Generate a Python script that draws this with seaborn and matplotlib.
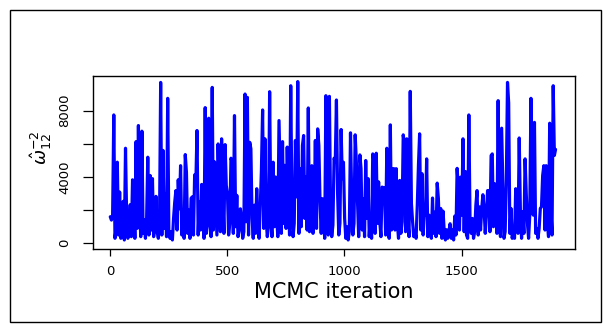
import numpy as np
import pandas as pd
import matplotlib
matplotlib.use("Agg")
import matplotlib.pyplot as plt
from matplotlib.patches import Rectangle
import seaborn as sns

# ---- data (one value every 5 MCMC iterations) ----
step = 5
trace_values = [
    1600, 1400, 1700, 7740, 300, 900, 4890, 500, 3090, 300, 800, 2530, 200, 5730, 1500, 300, 900, 2330, 400, 3830,
    2900, 300, 6130, 900, 7100, 2300, 400, 6760, 600, 1420, 300, 1400, 5190, 500, 4090, 800, 3900, 400, 1000, 2830,
    700, 300, 1100, 9700, 500, 5600, 900, 3000, 400, 8740, 500, 300, 700, 200, 1500, 2480, 3180, 800, 3830, 2080,
    4680, 500, 2000, 300, 5350, 4280, 600, 2000, 300, 2720, 2800, 500, 4130, 3500, 6800, 500, 2480, 800, 3550, 1500,
    300, 8180, 600, 1200, 7540, 1500, 400, 9400, 800, 4910, 2700, 500, 5990, 2900, 700, 6300, 2900, 600, 5950, 3490,
    3000, 500, 1200, 5130, 4900, 600, 7700, 1000, 2890, 400, 800, 2080, 1500, 300, 700, 9000, 1300, 8800, 500, 6090,
    5700, 1500, 300, 2300, 600, 3290, 1100, 300, 2200, 4460, 8040, 900, 6300, 1500, 400, 1000, 9140, 1700, 400, 4890,
    1000, 4000, 1500, 400, 7400, 4100, 600, 6130, 1200, 4700, 900, 5800, 2700, 500, 9500, 2700, 400, 1200, 6200, 2800,
    9750, 600, 4500, 1000, 5900, 6500, 1500, 4000, 800, 8160, 700, 4500, 4680, 600, 2000, 6200, 900, 6900, 5900, 2500,
    600, 2690, 1500, 300, 8900, 2000, 500, 8860, 2000, 400, 1100, 5130, 4900, 8640, 3000, 500, 1200, 6860, 3900, 4890,
    1500, 300, 1000, 200, 700, 6660, 3000, 500, 1200, 6540, 4900, 2500, 400, 5330, 4500, 800, 2700, 400, 4990, 1500,
    3900, 400, 1700, 300, 5390, 5000, 600, 5430, 1200, 3700, 1300, 400, 3390, 3350, 3350, 500, 5730, 1500, 300, 7140,
    800, 4500, 4500, 800, 4500, 1200, 300, 3790, 600, 1300, 6540, 6000, 700, 6300, 1300, 400, 9160, 2400, 1300, 400,
    700, 300, 2290, 4700, 6600, 800, 4200, 500, 1700, 1700, 5090, 400, 1700, 900, 300, 2730, 600, 1880, 400, 3630,
    2700, 600, 2100, 300, 1940, 700, 200, 820, 300, 700, 1180, 300, 800, 200, 1640, 500, 4520, 3400, 800, 3990,
    1700, 6300, 700, 4330, 500, 300, 7740, 1500, 600, 1500, 300, 700, 2300, 3180, 500, 2200, 800, 2100, 2930, 2100,
    600, 1700, 3180, 3180, 700, 5290, 5390, 1000, 3590, 3200, 600, 8600, 1500, 400, 6940, 3500, 300, 700, 3830, 9700,
    8460, 600, 2100, 300, 700, 300, 3290, 1500, 600, 6350, 1900, 300, 1900, 600, 5090, 3000, 1200, 300, 1700, 8740,
    4200, 1700, 7290, 600, 900, 300, 900, 2100, 2200, 4090, 4680, 800, 4680, 1300, 400, 7240, 2100, 500, 9500, 5300,
    5660,
]
iterations = np.arange(1, 1 + step * len(trace_values), step)
x_ticks = [0, 500, 1000, 1500]
y_ticks = [0, 2000, 4000, 6000, 8000]
y_tick_labels = ["0", "", "4000", "", "8000"]
x_label = "MCMC iteration"
y_label = r"$\hat{\omega}_{12}^{-2}$"

df = pd.DataFrame({"iteration": iterations, "value": trace_values})

sns.set_style("white")
plt.rcParams["font.family"] = ["DejaVu Sans"]

W, H = 611, 329
fig = plt.figure(figsize=(W / 100, H / 100), dpi=100)
ax = fig.add_axes([92.7 / W, 1 - 249 / H, (575 - 92.7) / W, (249 - 75.7) / H])

sns.lineplot(data=df, x="iteration", y="value", color="#0000FF", linewidth=2.3,
             estimator=None, sort=False, ax=ax)

ax.set_xlim(-74, 1984)
ax.set_ylim(-344, 10106)
ax.set_xticks(x_ticks)
ax.set_xticklabels([str(t) for t in x_ticks])
ax.set_yticks(y_ticks)
ax.set_yticklabels(y_tick_labels)
ax.set_xlabel("")
ax.set_ylabel("")

for s in ax.spines.values():
    s.set_visible(True)
    s.set_color("black")
    s.set_linewidth(1.0)

ax.tick_params(axis="x", direction="out", length=5.3, width=0.9, pad=6.5,
               labelsize=9.5, colors="black", bottom=True)
ax.tick_params(axis="y", direction="out", length=7.5, width=0.9, pad=8,
               labelsize=9.5, colors="black", left=True, labelrotation=90)
for lab in ax.get_yticklabels():
    lab.set_va("center")

fig.text(333.8 / W, 1 - 298 / H, x_label, ha="center", va="baseline", fontsize=15,
         color="black")
fig.text(41 / W, 1 - 148 / H, y_label, ha="center", va="center", rotation=90, fontsize=13,
         color="black")

# outer frame of the device
fig.patches.append(Rectangle((10 / W, 1 - 322 / H), (601 - 10) / W, (322 - 10) / H,
                             transform=fig.transFigure, fill=False, edgecolor="black",
                             linewidth=1.0))

fig.savefig("out.png", dpi=100)
